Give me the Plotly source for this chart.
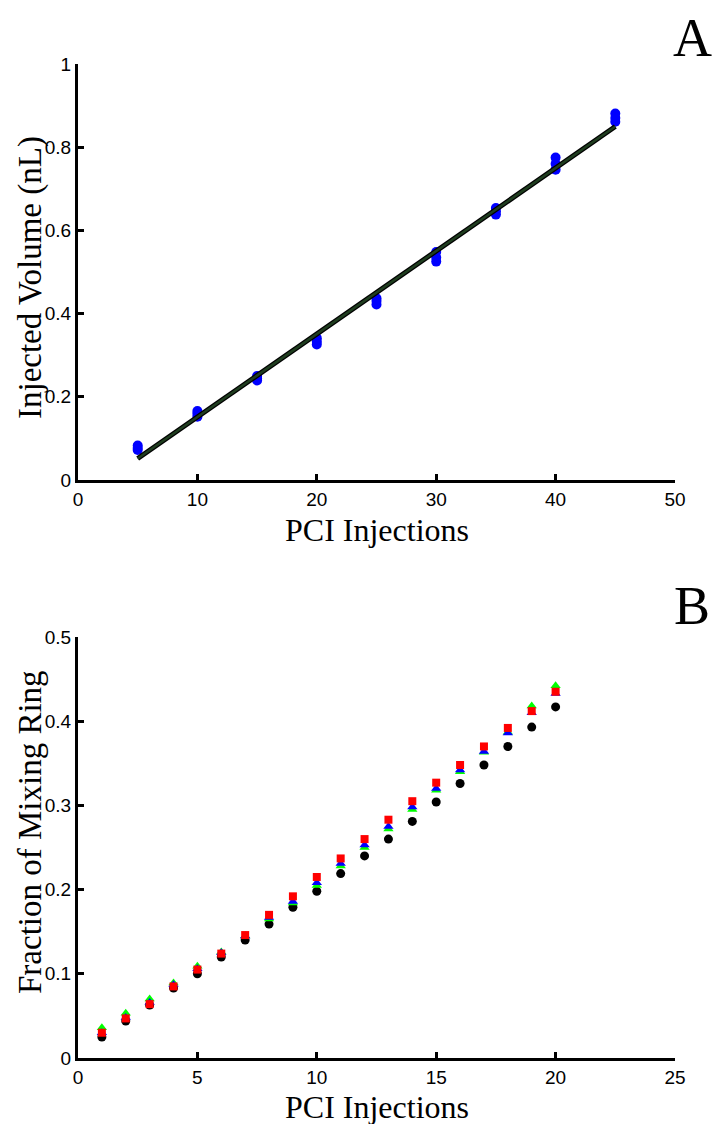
import numpy as np
import plotly.graph_objects as go

# ---------------- Data ----------------
# Panel A: replicate injected volumes (nL) at each PCI injection count
a_x = [5, 10, 15, 20, 25, 30, 35, 40, 45]
a_rep1 = [0.072, 0.152, 0.239, 0.326, 0.422, 0.525, 0.638, 0.746, 0.861]
a_rep2 = [0.077, 0.159, 0.244, 0.333, 0.430, 0.535, 0.646, 0.760, 0.870]
a_rep3 = [0.083, 0.166, 0.250, 0.341, 0.437, 0.548, 0.654, 0.775, 0.881]

# Panel B: fraction of mixing ring vs PCI injections
b_x = list(range(1, 21))
b_black = [0.025, 0.044, 0.063, 0.083, 0.100, 0.120, 0.140, 0.159, 0.179, 0.198,
           0.219, 0.240, 0.260, 0.281, 0.304, 0.326, 0.348, 0.370, 0.393, 0.417]
b_green = [0.036, 0.053, 0.070, 0.089, 0.109, 0.126, 0.145, 0.165, 0.184, 0.205,
           0.228, 0.250, 0.272, 0.295, 0.318, 0.340, 0.363, 0.387, 0.418, 0.442]
b_blue = [0.030, 0.048, 0.066, 0.087, 0.106, 0.125, 0.145, 0.167, 0.186, 0.208,
          0.231, 0.253, 0.275, 0.298, 0.320, 0.342, 0.364, 0.386, 0.410, 0.433]
b_red = [0.030, 0.047, 0.064, 0.085, 0.105, 0.124, 0.146, 0.170, 0.192, 0.215,
         0.237, 0.260, 0.283, 0.305, 0.327, 0.348, 0.370, 0.392, 0.412, 0.435]

a_xlabel = "PCI Injections"
a_ylabel = "Injected Volume (nL)"
b_xlabel = "PCI Injections"
b_ylabel = "Fraction of Mixing Ring"

# ---------------- Layout helpers ----------------
W, H = 712, 1124
def px(x):
    return x / W
def py(y):
    return 1 - y / H

SERIF = "Liberation Serif, Times New Roman, serif"
SANS = "Liberation Sans, Arial, sans-serif"

fig = go.Figure()

# Panel A points
ax_all = a_x * 3
ay_all = a_rep1 + a_rep2 + a_rep3
fig.add_trace(go.Scatter(x=ax_all, y=ay_all, mode="markers",
                         marker=dict(color="#0000ff", size=10, line=dict(width=0)),
                         xaxis="x", yaxis="y", showlegend=False))
# Linear fit
slope, intercept = np.polyfit(np.array(ax_all, float), np.array(ay_all, float), 1)
fx = np.array([min(a_x), max(a_x)], float)
fy = slope * fx + intercept
fig.add_trace(go.Scatter(x=fx, y=fy, mode="lines", line=dict(color="#000000", width=5),
                         xaxis="x", yaxis="y", showlegend=False))
fig.add_trace(go.Scatter(x=fx, y=fy, mode="lines", line=dict(color="#1f3d1f", width=2.5),
                         xaxis="x", yaxis="y", showlegend=False))

# Panel B points
fig.add_trace(go.Scatter(x=b_x, y=b_black, mode="markers",
                         marker=dict(color="#000000", size=9, symbol="circle", line=dict(width=0)),
                         xaxis="x2", yaxis="y2", showlegend=False))
fig.add_trace(go.Scatter(x=b_x, y=b_green, mode="markers",
                         marker=dict(color="#00ff00", size=9, symbol="triangle-up", line=dict(width=0)),
                         xaxis="x2", yaxis="y2", showlegend=False))
fig.add_trace(go.Scatter(x=b_x, y=b_blue, mode="markers",
                         marker=dict(color="#0000ff", size=9, symbol="triangle-up", line=dict(width=0)),
                         xaxis="x2", yaxis="y2", showlegend=False))
fig.add_trace(go.Scatter(x=b_x, y=b_red, mode="markers",
                         marker=dict(color="#ff0000", size=8, symbol="square", line=dict(width=0)),
                         xaxis="x2", yaxis="y2", showlegend=False))

axis_common = dict(showline=True, linecolor="black", linewidth=3, ticks="inside",
                   ticklen=6, tickwidth=2.5, tickcolor="black", showgrid=False,
                   zeroline=False, mirror=False, automargin=False,
                   tickfont=dict(family=SANS, size=19, color="black"))

xdom = [px(78), px(675)]
fig.update_layout(
    width=W, height=H,
    margin=dict(l=0, r=0, t=0, b=0, autoexpand=False),
    paper_bgcolor="white", plot_bgcolor="white",
    xaxis=dict(domain=xdom, range=[0, 50], dtick=10, anchor="y", **axis_common),
    yaxis=dict(domain=[py(480), py(64)], range=[0, 1], dtick=0.2, anchor="x", **axis_common),
    xaxis2=dict(domain=xdom, range=[0, 25], dtick=5, anchor="y2", **axis_common),
    yaxis2=dict(domain=[py(1058), py(637)], range=[0, 0.5], dtick=0.1, anchor="x2", **axis_common),
)

ann = []
def title(text, x, y, size, angle=0):
    ann.append(dict(text=text, x=px(x), y=py(y), xref="paper", yref="paper",
                    showarrow=False, textangle=angle, xanchor="center", yanchor="middle",
                    font=dict(family=SERIF, size=size, color="black")))

title(a_xlabel, 377, 530, 32)
title(a_ylabel, 30, 278, 33, -90)
title(b_xlabel, 377, 1107, 32)
title(b_ylabel, 30, 832, 33, -90)
title("A", 692, 38, 54)
title("B", 692, 606, 54)
fig.update_layout(annotations=ann)

fig.write_html("out.html", config={"displayModeBar": False},
               post_script="document.body.style.margin='0';document.body.style.padding='0';"
                           "document.body.style.overflow='hidden';")
